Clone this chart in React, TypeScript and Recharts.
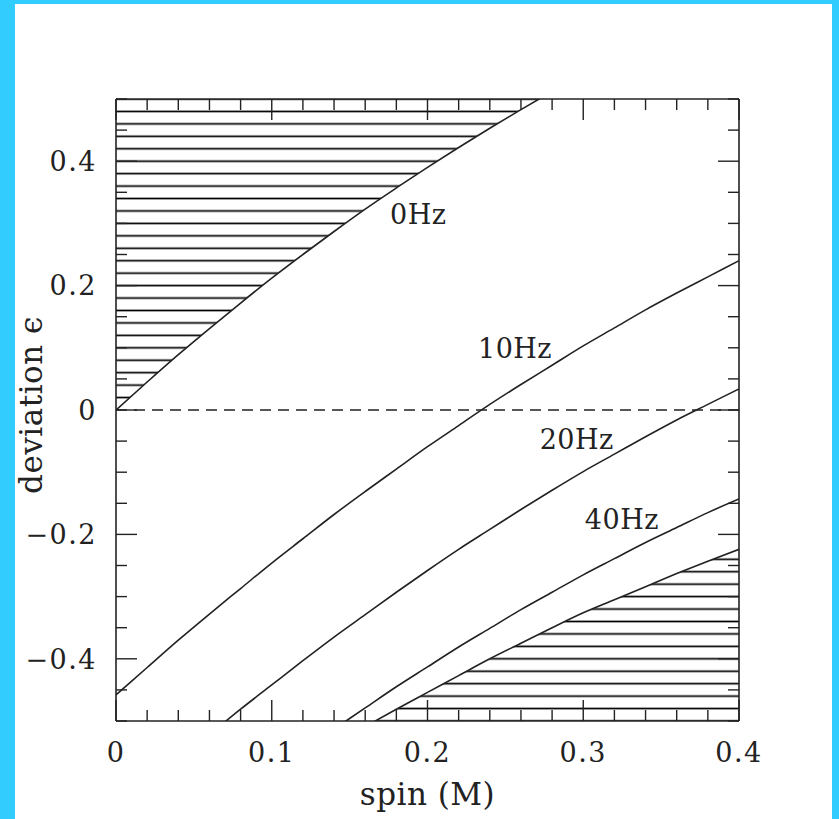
import React from "react";
import { ComposedChart, Line, Area, XAxis, YAxis, ReferenceLine, ReferenceDot } from "recharts";

// spin grid and the ε(spin) curves for each frequency
const spin = [0, 0.02, 0.04, 0.06, 0.08, 0.1, 0.12, 0.14, 0.16, 0.18, 0.2, 0.22, 0.24, 0.26, 0.28, 0.3, 0.32, 0.34, 0.36, 0.38, 0.4];
const hz0 = [0, 0.045, 0.089, 0.131, 0.172, 0.212, 0.25, 0.287, 0.323, 0.357, 0.39, 0.422, 0.453, 0.483, 0.512, null, null, null, null, null, null];
const hz10 = [-0.458, -0.414, -0.37, -0.328, -0.287, -0.246, -0.207, -0.168, -0.131, -0.095, -0.059, -0.025, 0.009, 0.041, 0.072, 0.103, 0.132, 0.161, 0.188, 0.214, 0.24];
const hz20 = [null, null, null, -0.522, -0.481, -0.442, -0.403, -0.365, -0.329, -0.293, -0.258, -0.224, -0.192, -0.16, -0.129, -0.099, -0.071, -0.043, -0.016, 0.009, 0.034];
const hz40 = [null, null, null, null, null, null, null, -0.513, -0.479, -0.445, -0.413, -0.381, -0.351, -0.321, -0.293, -0.265, -0.239, -0.213, -0.189, -0.165, -0.143];
const boundary = [null, null, null, null, null, null, null, null, -0.509, -0.481, -0.454, -0.427, -0.4, -0.375, -0.35, -0.326, -0.305, -0.284, -0.263, -0.243, -0.224];

const xTicks = [0, 0.02, 0.04, 0.06, 0.08, 0.1, 0.12, 0.14, 0.16, 0.18, 0.2, 0.22, 0.24, 0.26, 0.28, 0.3, 0.32, 0.34, 0.36, 0.38, 0.4];
const yTicks = [-0.5, -0.45, -0.4, -0.35, -0.3, -0.25, -0.2, -0.15, -0.1, -0.05, 0, 0.05, 0.1, 0.15, 0.2, 0.25, 0.3, 0.35, 0.4, 0.45, 0.5];

const curveNames = ["0Hz", "10Hz", "20Hz", "40Hz"];
// where each curve name sits, in (spin, ε)
const labelAnchors: [number, number][] = [
  [0.176, 0.299],
  [0.2324, 0.0836],
  [0.272, -0.0627],
  [0.301, -0.191],
];

const W = 839;
const H = 819;
const PLOT = { left: 116, top: 99, right: 739, bottom: 721 };
const HATCH_STEP = 0.02 * (PLOT.bottom - PLOT.top);
const INK = "#222";
const FONT = "'DejaVu Serif', serif";

const rows = spin.map((s, i) => ({
  spin: s,
  hz0: hz0[i],
  hz10: hz10[i],
  hz20: hz20[i],
  hz40: hz40[i],
  boundary: boundary[i],
  upper: hz0[i] == null ? null : [hz0[i], 0.5],
  lower: boundary[i] == null ? null : [-0.5, boundary[i]],
}));

const onStep = (v: number, per: number) => Math.abs(v * per - Math.round(v * per)) < 1e-6;
const fmtX = (v: number) => (v === 0 ? "0" : v.toFixed(1));
const fmtY = (v: number) => (Math.abs(v) < 1e-9 ? "0" : v < 0 ? "\u2212" + (-v).toFixed(1) : v.toFixed(1));

const textProps = { fontSize: 27, fill: INK, fontFamily: FONT, letterSpacing: 1.5 };
const titleProps = { fontSize: 31, fill: INK, fontFamily: FONT, letterSpacing: 0.5 };

function XTick(props: any) {
  const { x, y, payload, side } = props;
  const major = onStep(payload.value, 10);
  const len = major ? 21 : 11;
  const dir = side === "top" ? 1 : -1;
  return (
    <g>
      <line x1={x} x2={x} y1={y} y2={y + dir * len} stroke={INK} strokeWidth={1.4} />
      {side === "bottom" && major && (
        <text x={x} y={y + 41} textAnchor="middle" {...textProps}>
          {fmtX(payload.value)}
        </text>
      )}
    </g>
  );
}

function YTick(props: any) {
  const { x, y, payload, side } = props;
  const v = payload.value;
  const major = onStep(v, 5);
  const len = major ? 21 : 11;
  const dir = side === "left" ? 1 : -1;
  return (
    <g>
      <line x1={x} x2={x + dir * len} y1={y} y2={y} stroke={INK} strokeWidth={1.4} />
      {side === "left" && major && (
        <text x={x - 19} y={y} dy="0.36em" textAnchor="end" {...textProps}>
          {fmtY(v)}
        </text>
      )}
    </g>
  );
}

export default function App() {
  const curve = { type: "monotone" as const, stroke: INK, strokeWidth: 1.6, dot: false, isAnimationActive: false, connectNulls: false };
  return (
    <div style={{ position: "absolute", left: 0, top: 0, width: W, height: H, background: "#33ccff" }}>
      <div style={{ position: "absolute", left: 15, top: 4, width: 817, height: H - 4, background: "#fff" }} />
      <div style={{ position: "absolute", left: 0, top: 0 }}>
        <ComposedChart
          width={W}
          height={H}
          data={rows}
          margin={{ left: 15, top: PLOT.top - 1, right: W - PLOT.right - 1, bottom: H - PLOT.bottom - 60 }}
        >
          <defs>
            <pattern id="hatch" patternUnits="userSpaceOnUse" x={0} y={PLOT.top - HATCH_STEP / 2} width={20} height={HATCH_STEP}>
              <line x1={0} x2={20} y1={HATCH_STEP / 2} y2={HATCH_STEP / 2} stroke="#000" strokeWidth={1.7} />
            </pattern>
          </defs>
          <XAxis
            xAxisId="bottom"
            dataKey="spin"
            type="number"
            domain={[0, 0.4]}
            allowDataOverflow
            ticks={xTicks}
            interval={0}
            height={60}
            tickSize={0}
            tickMargin={0}
            tickLine={false}
            axisLine={{ stroke: INK, strokeWidth: 1.6 }}
            tick={(p: any) => <XTick {...p} side="bottom" />}
            label={{
              content: (p: any) => (
                <text x={p.viewBox.x + p.viewBox.width / 2} y={p.viewBox.y + 84} textAnchor="middle" {...titleProps}>
                  spin (M)
                </text>
              ),
            }}
          />
          <XAxis
            xAxisId="top"
            orientation="top"
            dataKey="spin"
            type="number"
            domain={[0, 0.4]}
            allowDataOverflow
            ticks={xTicks}
            interval={0}
            height={1}
            tickSize={0}
            tickMargin={0}
            tickLine={false}
            axisLine={{ stroke: INK, strokeWidth: 1.6 }}
            tick={(p: any) => <XTick {...p} side="top" />}
          />
          <YAxis
            yAxisId="left"
            type="number"
            domain={[-0.5, 0.5]}
            allowDataOverflow
            ticks={yTicks}
            interval={0}
            width={PLOT.left - 15}
            tickSize={0}
            tickMargin={0}
            tickLine={false}
            axisLine={{ stroke: INK, strokeWidth: 1.6 }}
            tick={(p: any) => <YTick {...p} side="left" />}
            label={{
              content: (p: any) => {
                const cx = p.viewBox.x + 27;
                const cy = p.viewBox.y + p.viewBox.height / 2 - 5;
                return (
                  <text x={cx} y={cy} transform={`rotate(-90 ${cx} ${cy})`} textAnchor="middle" {...titleProps}>
                    deviation ϵ
                  </text>
                );
              },
            }}
          />
          <YAxis
            yAxisId="right"
            orientation="right"
            type="number"
            domain={[-0.5, 0.5]}
            allowDataOverflow
            ticks={yTicks}
            interval={0}
            width={1}
            tickSize={0}
            tickMargin={0}
            tickLine={false}
            axisLine={{ stroke: INK, strokeWidth: 1.6 }}
            tick={(p: any) => <YTick {...p} side="right" />}
          />

          {/* excluded regions */}
          <Area xAxisId="bottom" yAxisId="left" dataKey="upper" type="monotone" stroke="none" fill="url(#hatch)" fillOpacity={1} isAnimationActive={false} />
          <Area xAxisId="bottom" yAxisId="left" dataKey="lower" type="monotone" stroke="none" fill="url(#hatch)" fillOpacity={1} isAnimationActive={false} />

          <ReferenceLine xAxisId="bottom" yAxisId="left" y={0} stroke={INK} strokeWidth={1.5} strokeDasharray="11 7" />

          <Line xAxisId="bottom" yAxisId="left" dataKey="hz0" {...curve} />
          <Line xAxisId="bottom" yAxisId="left" dataKey="hz10" {...curve} />
          <Line xAxisId="bottom" yAxisId="left" dataKey="hz20" {...curve} />
          <Line xAxisId="bottom" yAxisId="left" dataKey="hz40" {...curve} />
          <Line xAxisId="bottom" yAxisId="left" dataKey="boundary" {...curve} />

          {curveNames.map((name, i) => (
            <ReferenceDot
              key={name}
              xAxisId="bottom"
              yAxisId="left"
              x={labelAnchors[i][0]}
              y={labelAnchors[i][1]}
              r={0}
              shape={(p: any) => (
                <text x={p.cx} y={p.cy} textAnchor="start" {...textProps} letterSpacing={0.5}>
                  {name}
                </text>
              )}
            />
          ))}
        </ComposedChart>
      </div>
    </div>
  );
}
